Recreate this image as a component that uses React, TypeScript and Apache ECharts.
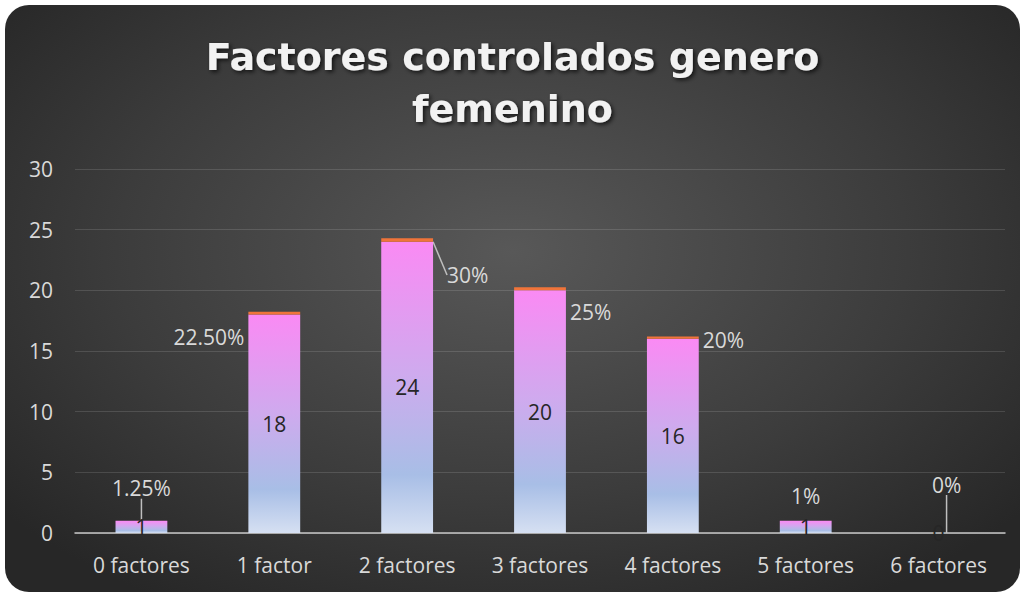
import React, { useEffect, useRef } from "react";
import * as echarts from "echarts";

const categories = ["0 factores", "1 factor", "2 factores", "3 factores", "4 factores", "5 factores", "6 factores"];
const counts = [1, 18, 24, 20, 16, 1, 0];
const shares = [0.0125, 0.225, 0.3, 0.25, 0.2, 0.0125, 0];
const shareLabels = ["1.25%", "22.50%", "30%", "25%", "20%", "1%", "0%"];
const yTicks = { min: 0, max: 30, interval: 5 };

const labelPos = ["top", "left", "right", "right", "right", "top", "top"];
const labelShift = [
  { dx: 0, dy: -18, line: true },
  { dx: 0, dy: 24, line: false },
  { dx: 10, dy: 35, line: true },
  { dx: 0, dy: 23, line: false },
  { dx: 0, dy: 2, line: false },
  { dx: 0, dy: -10, line: false },
  { dx: 8, dy: -34, line: true },
];

const FONT = "'Open Sans', Lato, sans-serif";

export default function App() {
  const ref = useRef<HTMLDivElement>(null);
  useEffect(() => {
    if (!ref.current) return;
    const chart = echarts.init(ref.current, null, { renderer: "svg" });
    const barGrad = new echarts.graphic.LinearGradient(0, 0, 0, 1, [
      { offset: 0, color: "#fa8af4" },
      { offset: 0.45, color: "#cfaaee" },
      { offset: 0.8, color: "#a8bee6" },
      { offset: 1, color: "#d6e0f2" },
    ]);
    chart.setOption({
      animation: false,
      backgroundColor: "transparent",
      title: {
        text: "Factores controlados genero\nfemenino",
        left: "center",
        top: 26,
        textStyle: {
          color: "#f2f2f2",
          fontFamily: "'DejaVu Sans', sans-serif",
          fontWeight: "bold",
          fontSize: 38,
          lineHeight: 52,
          textShadowColor: "rgba(0,0,0,0.7)",
          textShadowBlur: 4,
          textShadowOffsetX: 2,
          textShadowOffsetY: 2,
        },
      },
      grid: { left: 75, right: 20, top: 169, bottom: 61, containLabel: false },
      xAxis: {
        type: "category",
        data: categories,
        axisTick: { show: false },
        axisLine: { lineStyle: { color: "#c8c8c8", width: 1.5 } },
        axisLabel: { color: "#d9d9d9", fontFamily: FONT, fontSize: 21, margin: 21 },
      },
      yAxis: {
        type: "value",
        min: yTicks.min,
        max: yTicks.max,
        interval: yTicks.interval,
        axisLine: { show: false },
        axisTick: { show: false },
        splitLine: { lineStyle: { color: "rgba(255,255,255,0.13)", width: 1.2 } },
        axisLabel: { color: "#d9d9d9", fontFamily: FONT, fontSize: 21, margin: 22 },
      },
      series: [
        {
          type: "bar",
          stack: "a",
          barWidth: "39%",
          data: counts,
          itemStyle: { color: barGrad },
          label: {
            show: true,
            position: "inside",
            color: "#262626",
            fontFamily: FONT,
            fontSize: 21,
          },
        },
        {
          type: "bar",
          stack: "a",
          barWidth: "39%",
          data: shares.map((v, i) => ({
            value: v,
            label: { position: labelPos[i] },
            labelLine: { show: labelShift[i].line },
          })),
          itemStyle: { color: "#f0743a" },
          label: {
            show: true,
            distance: 4,
            color: "#d9d9d9",
            fontFamily: FONT,
            fontSize: 21,
            formatter: (p: any) => shareLabels[p.dataIndex],
          },
          labelLine: { show: true, lineStyle: { color: "#bfbfbf", width: 1.5 } },
          labelLayout: (p: any) => ({ dx: labelShift[p.dataIndex].dx, dy: labelShift[p.dataIndex].dy }),
        },
      ],
    });
    return () => chart.dispose();
  }, []);
  return (
    <div style={{ position: "fixed", left: 0, top: 0, width: 1025, height: 594, background: "#ffffff" }}>
      <div
        style={{
          position: "absolute",
          left: 5,
          top: 5,
          width: 1015,
          height: 587,
          borderRadius: 24,
          background: "radial-gradient(ellipse 65% 70% at 50% 42%, #585858 0%, #3c3c3c 60%, #272727 100%)",
        }}
      />
      <div ref={ref} style={{ position: "absolute", left: 0, top: 0, width: 1025, height: 594 }} />
    </div>
  );
}
